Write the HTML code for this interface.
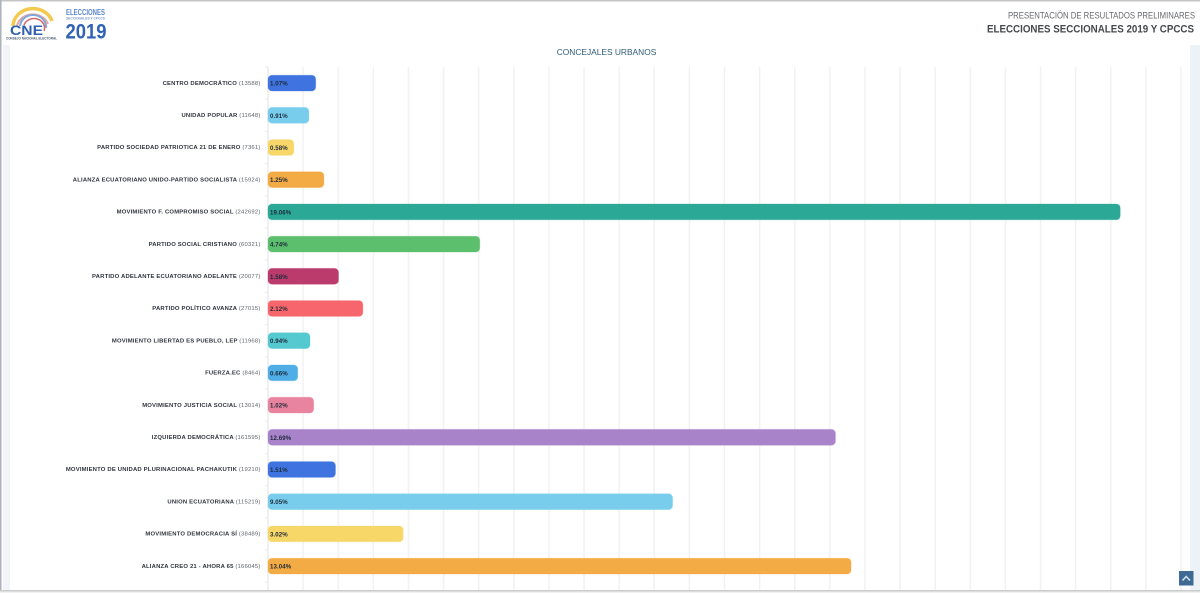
<!DOCTYPE html>
<html lang="es">
<head>
<meta charset="utf-8">
<title>Concejales Urbanos</title>
<style>
html,body{margin:0;padding:0;background:#fff;width:1200px;height:593px;overflow:hidden}
svg{display:block}
text{font-family:"Liberation Sans",sans-serif}
</style>
</head>
<body>
<svg id="chart" width="1200" height="593" viewBox="0 0 1200 593" xmlns="http://www.w3.org/2000/svg">
  <rect x="0" y="0" width="1200" height="593" fill="#ffffff"/>
  <rect x="0" y="0" width="1200" height="1.5" fill="#c4c6c8"/>
  <rect x="0" y="0" width="1.5" height="593" fill="#aab2bc"/>
  <rect x="3" y="45" width="7" height="545" fill="#f1f5f9"/>
  <rect x="1190" y="45" width="10" height="545" fill="#edf2f7"/>
  <rect x="0" y="590" width="1200" height="1.5" fill="#c9cacb"/>
  <rect x="0" y="591.5" width="1200" height="1.5" fill="#f1f1f1"/>

  <g>
    <path d="M13 26 A20 18 0 0 1 52 21" fill="none" stroke="#f3c94f" stroke-width="3.5"/>
    <path d="M17 26 A16 14 0 0 1 48 24" fill="none" stroke="#e9a6a0" stroke-width="2"/>
    <path d="M20 26 A13 12 0 0 1 46 28" fill="none" stroke="#7fa8dc" stroke-width="2"/>
    <path d="M24 25 A10 9 0 0 1 44 31" fill="none" stroke="#d66a6a" stroke-width="1.5"/>
    <text x="10" y="35" font-size="13.5" font-weight="700" fill="#2f5fb0" textLength="33" lengthAdjust="spacingAndGlyphs">CNE</text>
    <text x="6" y="39.5" font-size="3.6" font-weight="700" fill="#4a5a70" textLength="51" lengthAdjust="spacingAndGlyphs">CONSEJO NACIONAL ELECTORAL</text>
  </g>
  <g>
    <text x="66" y="15" font-size="7.8" font-weight="700" fill="#5b86c8" textLength="39" lengthAdjust="spacingAndGlyphs">ELECCIONES</text>
    <text x="66" y="19.5" font-size="3.6" font-weight="700" fill="#7b9dd0" textLength="39" lengthAdjust="spacingAndGlyphs">SECCIONALES Y CPCCS</text>
    <text x="65.5" y="38.5" font-size="21" font-weight="700" fill="#2f62b5" textLength="41" lengthAdjust="spacingAndGlyphs">2019</text>
  </g>

  <text x="1195" y="18.5" text-anchor="end" font-size="9.2" fill="#66696d" textLength="187" lengthAdjust="spacingAndGlyphs">PRESENTACIÓN DE RESULTADOS PRELIMINARES</text>
  <text x="1194" y="32.5" text-anchor="end" font-size="11.4" font-weight="700" fill="#45484c" textLength="207" lengthAdjust="spacingAndGlyphs">ELECCIONES SECCIONALES 2019 Y CPCCS</text>
  <text x="606.5" y="55" text-anchor="middle" font-size="8.4" fill="#2d5c78">CONCEJALES URBANOS</text>

  <g id="grid"></g>
  <g id="ticks"></g>
  <g id="bars"></g>

  <g>
    <rect x="1179" y="571" width="14.5" height="14.5" fill="#3f6a94"/>
    <path d="M1182.5 580.5 L1186.2 576.5 L1190 580.5" fill="none" stroke="#d5e2ee" stroke-width="1.6"/>
  </g>
</svg>
<script>
const categories = [
  "CENTRO DEMOCRÁTICO",
  "UNIDAD POPULAR",
  "PARTIDO SOCIEDAD PATRIOTICA 21 DE ENERO",
  "ALIANZA ECUATORIANO UNIDO-PARTIDO SOCIALISTA",
  "MOVIMIENTO F. COMPROMISO SOCIAL",
  "PARTIDO SOCIAL CRISTIANO",
  "PARTIDO ADELANTE ECUATORIANO ADELANTE",
  "PARTIDO POLÍTICO AVANZA",
  "MOVIMIENTO LIBERTAD ES PUEBLO, LEP",
  "FUERZA.EC",
  "MOVIMIENTO JUSTICIA SOCIAL",
  "IZQUIERDA DEMOCRÁTICA",
  "MOVIMIENTO DE UNIDAD PLURINACIONAL PACHAKUTIK",
  "UNION ECUATORIANA",
  "MOVIMIENTO DEMOCRACIA SÍ",
  "ALIANZA CREO 21 - AHORA 65"
];
const votes = [13588,11648,7361,15924,242692,60321,20077,27015,11968,8464,13014,161595,19210,115219,38489,166045];
const percentages = ["1.07%","0.91%","0.58%","1.25%","19.06%","4.74%","1.58%","2.12%","0.94%","0.66%","1.02%","12.69%","1.51%","9.05%","3.02%","13.04%"];
const barColors = ["#3f74e0","#79cdec","#f7d768","#f2ab45","#2ca897","#5cbf6e","#bb3b6c","#f7666c","#55c9d0","#50aee6","#e8849f","#a983ca","#3f74e0","#79cdec","#f7d768","#f2ab45"];
const axisMax = 260000;
const axisStep = 10000;

const NS = "http://www.w3.org/2000/svg";
const plot = { left: 268, right: 1181, top: 67, band: 32.2 };
function xScale(v) { return plot.left + (v / axisMax) * (plot.right - plot.left); }
function yBand(i) { return plot.top + plot.band * i; }
function mk(tag, attrs, parent) {
  const el = document.createElementNS(NS, tag);
  for (const k in attrs) el.setAttribute(k, attrs[k]);
  parent.appendChild(el);
  return el;
}
const grid = document.getElementById("grid");
const ticks = document.getElementById("ticks");
const bars = document.getElementById("bars");

for (let v = 0; v <= axisMax; v += axisStep) {
  const line = mk("line", { x1: xScale(v), x2: xScale(v), y1: plot.top, y2: 590, stroke: v === 0 ? "#ececec" : "#f2f2f2", "stroke-width": 1.5 }, grid);
  
  
}
for (let i = 0; i <= categories.length; i++) {
  const t = mk("line", { x1: plot.left - 3, x2: plot.left, y1: yBand(i), y2: yBand(i), stroke: "#ebebeb", "stroke-width": 1 }, ticks);
  
  
}
categories.forEach(function (name, i) {
  const cy = yBand(i) + plot.band / 2;
  const label = mk("text", { x: 260.5, y: cy + 1.7, "text-anchor": "end", "font-size": 5.9, "font-weight": 700, fill: "#2f343c", "letter-spacing": 0.19 }, bars);
  
  
  label.textContent = name + " ";
  const count = mk("tspan", { "font-weight": 400, fill: "#5f6369" }, label);
  count.textContent = "(" + votes[i] + ")";

  const bar = mk("rect", { x: plot.left, y: cy - 7.9, width: xScale(votes[i]) - plot.left, height: 15.8, rx: 4, ry: 4, fill: barColors[i], stroke: barColors[i], "stroke-opacity": 0.3, "stroke-width": 1 }, bars);
  
  

  const val = mk("text", { x: 270, y: cy + 2.5, "font-size": 6.1, "font-weight": 700, fill: "#1d2a3a", "letter-spacing": 0.1 }, bars);
  
  
  val.textContent = percentages[i];
});
</script>
</body>
</html>
